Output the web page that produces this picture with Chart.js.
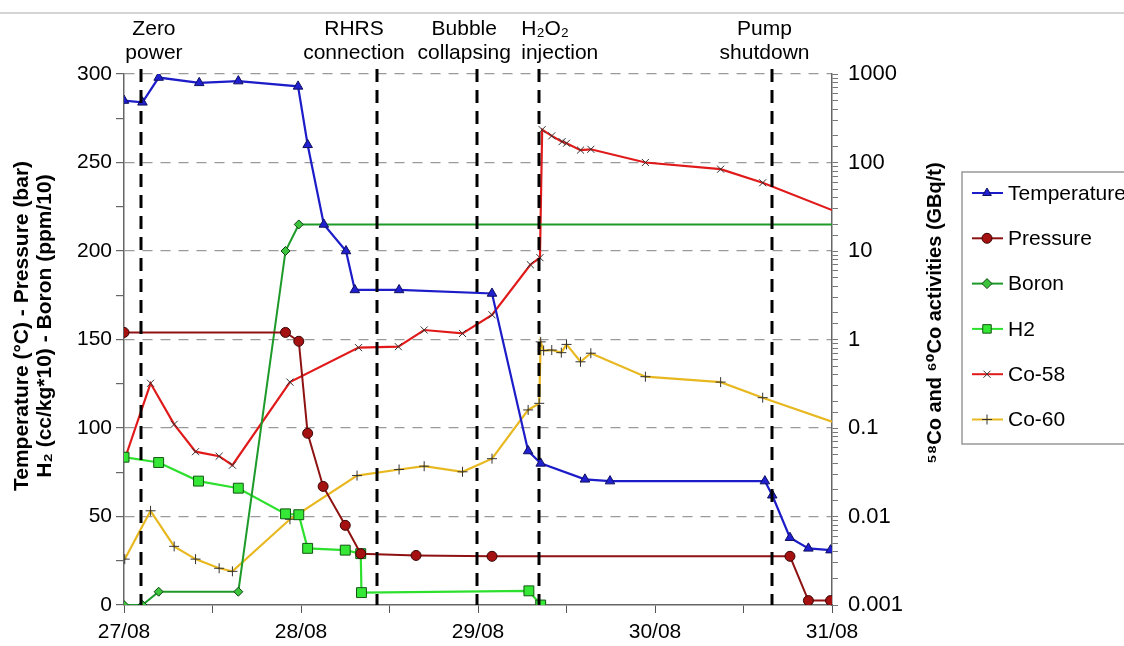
<!DOCTYPE html>
<html>
<head>
<meta charset="utf-8">
<script src="https://cdn.jsdelivr.net/npm/chart.js@4.4.1/dist/chart.umd.min.js"></script>
<style>
  body { margin: 0; background: #fff; }
  #wrap { width: 1124px; height: 646px; }
</style>
</head>
<body>
<div id="wrap"><canvas id="myChart" width="1124" height="646"></canvas></div>
<script>
// Datos: horas desde el 27/08 a las 00:00
const dayLabels = ['27/08', '28/08', '29/08', '30/08', '31/08'];

const tempHours = [0, 2.5, 4.7, 10.2, 15.5, 23.6, 24.9, 27.1, 30.1, 31.3, 37.3, 49.9, 54.8, 56.5, 62.5, 65.9, 86.9, 87.9, 90.3, 92.8, 95.8];
const tempValues = [285, 284, 298, 295, 296, 293, 260, 215, 200, 178, 178, 176, 87, 80, 71, 70, 70, 62, 38, 32, 31];

const pressHours = [0, 21.9, 23.7, 24.9, 27.0, 30.0, 32.1, 39.6, 49.9, 90.3, 92.8, 95.8];
const pressValues = [154, 154, 149, 97, 67, 45, 29, 28, 27.5, 27.5, 2.5, 2.5];

const boronHours = [0, 2.5, 4.7, 15.5, 21.9, 23.7, 96];
const boronValues = [0, 0, 7.5, 7.5, 200, 215, 215];

const h2Hours = [0, 4.7, 10.1, 15.5, 21.9, 23.7, 24.9, 30.0, 32.1, 32.2, 54.9, 56.5];
const h2Values = [83.5, 80.5, 70, 66, 51.5, 51, 32, 31, 29, 7, 8, 0];

const co58Hours = [0.2, 3.6, 6.8, 9.7, 12.9, 14.7, 22.5, 31.8, 37.2, 40.7, 45.9, 49.9, 55.1, 56.4, 56.7, 58.0, 59.4, 60.0, 61.9, 63.3, 70.7, 80.9, 86.6, 96];
const co58Values = [0.047, 0.32, 0.11, 0.054, 0.048, 0.038, 0.33, 0.81, 0.83, 1.28, 1.17, 1.9, 7, 8.4, 235, 200, 172, 165, 138, 141, 100, 84, 59, 29];

const co60Hours = [0.1, 3.6, 6.8, 9.7, 12.9, 14.7, 22.5, 31.6, 37.3, 40.7, 45.9, 49.9, 54.8, 56.3, 56.5, 56.9, 58.0, 59.3, 60.0, 61.9, 63.3, 70.7, 80.9, 86.6, 96];
const co60Values = [0.0033, 0.0116, 0.0046, 0.0033, 0.0026, 0.0024, 0.0093, 0.029, 0.034, 0.037, 0.032, 0.045, 0.16, 0.19, 0.94, 0.75, 0.76, 0.71, 0.88, 0.56, 0.7, 0.38, 0.33, 0.22, 0.118];

// Eventos (lineas verticales)
const eventHours = [2.3, 34.3, 47.9, 56.3, 87.8];
const eventLabels = [['Zero', 'power'], ['RHRS', 'connection'], ['Bubble', 'collapsing'], ['H\u2082O\u2082', 'injection'], ['Pump', 'shutdown']];

const FONT = "'Liberation Sans', Arial, 'DejaVu Sans', sans-serif";

function puntos(xs, ys) {
    return xs.map((x, i) => ({ x: x, y: ys[i] }));
}

// Hace el radio de puntos, sin marcador en el ultimo si se pide
function radios(n, r, sinUltimo) {
    const arr = [];
    for (let i = 0; i < n; i++) arr.push(r);
    if (sinUltimo) arr[n - 1] = 0;
    return arr;
}

const datasets = [
    {
        label: 'Temperature', data: puntos(tempHours, tempValues), yAxisID: 'y',
        borderColor: '#1c1cc8', backgroundColor: '#1c1cc8', borderWidth: 2.2,
        pointStyle: 'triangle', pointRadius: 5.5, pointBackgroundColor: '#2020d0', pointBorderColor: '#101060', pointBorderWidth: 1
    },
    {
        label: 'Pressure', data: puntos(pressHours, pressValues), yAxisID: 'y',
        borderColor: '#8e1212', backgroundColor: '#8e1212', borderWidth: 2,
        pointStyle: 'circle', pointRadius: 5, pointBackgroundColor: '#a51010', pointBorderColor: '#3a0505', pointBorderWidth: 1
    },
    {
        label: 'Boron', data: puntos(boronHours, boronValues), yAxisID: 'y',
        borderColor: '#1e9a2a', backgroundColor: '#1e9a2a', borderWidth: 2,
        pointStyle: 'rectRot', pointRadius: radios(boronHours.length, 4.5, true), pointBackgroundColor: '#3cc43c', pointBorderColor: '#104010', pointBorderWidth: 1
    },
    {
        label: 'H2', data: puntos(h2Hours, h2Values), yAxisID: 'y',
        borderColor: '#2ee02e', backgroundColor: '#2ee02e', borderWidth: 2.2,
        pointStyle: 'rect', pointRadius: 7, pointBackgroundColor: '#36e836', pointBorderColor: '#125512', pointBorderWidth: 1
    },
    {
        label: 'Co-58', data: puntos(co58Hours, co58Values), yAxisID: 'y2',
        borderColor: '#e01a1a', backgroundColor: '#e01a1a', borderWidth: 2.2,
        pointStyle: 'crossRot', pointRadius: radios(co58Hours.length, 5, true), pointBorderColor: '#333', pointBorderWidth: 1
    },
    {
        label: 'Co-60', data: puntos(co60Hours, co60Values), yAxisID: 'y2',
        borderColor: '#e8b820', backgroundColor: '#e8b820', borderWidth: 2.2,
        pointStyle: 'cross', pointRadius: radios(co60Hours.length, 5, true), pointBorderColor: '#333', pointBorderWidth: 1
    }
];

// Dibuja eventos, titulos de ejes y leyenda
const extras = {
    id: 'extras',
    beforeDraw(chart) {
        const ctx = chart.ctx;
        ctx.save();
        ctx.fillStyle = '#fff';
        ctx.fillRect(0, 0, chart.width, chart.height);
        ctx.strokeStyle = '#d4d4d4';
        ctx.lineWidth = 2;
        ctx.beginPath();
        ctx.moveTo(0, 13);
        ctx.lineTo(chart.width, 13);
        ctx.stroke();
        ctx.restore();
    },
    afterDatasetsDraw(chart) {
        const ctx = chart.ctx;
        const x = chart.scales.x;
        const area = chart.chartArea;
        const shift = [13, -23, -13, -18, -7];
        const align = ['center', 'center', 'center', 'left', 'center'];

        ctx.save();
        ctx.strokeStyle = '#000';
        ctx.lineWidth = 3;
        ctx.setLineDash([13, 8]);
        eventHours.forEach((h) => {
            const px = Math.round(x.getPixelForValue(h));
            ctx.beginPath();
            ctx.moveTo(px, area.top - 5);
            ctx.lineTo(px, area.bottom);
            ctx.stroke();
        });
        ctx.setLineDash([]);

        ctx.fillStyle = '#000';
        ctx.font = '21px ' + FONT;
        ctx.textBaseline = 'middle';
        eventLabels.forEach((lines, i) => {
            const px = x.getPixelForValue(eventHours[i]) + shift[i];
            ctx.textAlign = align[i];
            lines.forEach((t, j) => ctx.fillText(t, px, 29 + j * 24));
        });

        // Titulos de ejes
        ctx.textAlign = 'center';
        ctx.font = 'bold 21px ' + FONT;
        ctx.translate(22, 326);
        ctx.rotate(-Math.PI / 2);
        ctx.fillText('Temperature (\u00b0C) - Pressure (bar)', 0, 0);
        ctx.fillText('H\u2082 (cc/kg*10) - Boron (ppm/10)', 0, 23);
        ctx.restore();

        ctx.save();
        ctx.fillStyle = '#000';
        ctx.font = 'bold 20px ' + FONT;
        ctx.textAlign = 'center';
        ctx.textBaseline = 'middle';
        ctx.translate(935, 313);
        ctx.rotate(-Math.PI / 2);
        ctx.fillText('\u2075\u2078Co and \u2076\u2070Co activities (GBq/t)', 0, 0);
        ctx.restore();

        // Leyenda
        ctx.save();
        ctx.strokeStyle = '#999';
        ctx.lineWidth = 1.5;
        ctx.strokeRect(962, 172, 170, 272);
        ctx.font = '21px ' + FONT;
        ctx.textAlign = 'left';
        ctx.textBaseline = 'middle';
        chart.data.datasets.forEach((ds, i) => {
            const y = 193 + i * 45.3;
            ctx.strokeStyle = ds.borderColor;
            ctx.lineWidth = 2;
            ctx.beginPath();
            ctx.moveTo(972, y);
            ctx.lineTo(1003, y);
            ctx.stroke();
            ctx.fillStyle = ds.pointBackgroundColor || ds.borderColor;
            ctx.strokeStyle = ds.pointBorderColor;
            ctx.lineWidth = 1;
            const r = ds.pointStyle === 'rect' ? 6 : 5;
            Chart.helpers.drawPoint(ctx, { pointStyle: ds.pointStyle, radius: r, rotation: 0, borderWidth: 1 }, 987, y);
            ctx.fillStyle = '#000';
            ctx.fillText(ds.label, 1008, y + 1);
        });
        ctx.restore();
    }
};

function esPotencia(v) {
    const l = Math.log10(v);
    return Math.abs(l - Math.round(l)) < 1e-6;
}

new Chart(document.getElementById('myChart'), {
    type: 'line',
    data: { datasets: datasets },
    plugins: [extras],
    options: {
        responsive: false,
        animation: false,
        devicePixelRatio: 1,
        layout: { padding: { top: 74, left: 0, right: 0, bottom: 0 } },
        elements: { line: { tension: 0 } },
        plugins: { legend: { display: false }, tooltip: { enabled: false } },
        scales: {
            x: {
                type: 'linear', min: 0, max: 96,
                afterFit(s) { s.height = 41; },
                ticks: {
                    stepSize: 12, autoSkip: false, maxRotation: 0, padding: 7,
                    color: '#000', font: { size: 21, family: FONT },
                    callback: (v) => (v % 24 === 0 ? dayLabels[v / 24] : '')
                },
                grid: { drawOnChartArea: false, tickLength: 8, tickColor: '#555' },
                border: { color: '#666', width: 1.5 }
            },
            y: {
                type: 'linear', position: 'left', min: 0, max: 300,
                afterFit(s) { s.width = 124; },
                ticks: {
                    stepSize: 25, autoSkip: false, padding: 4,
                    color: '#000', font: { size: 21, family: FONT },
                    callback: (v) => (v % 50 === 0 ? v : '')
                },
                grid: {
                    color: (c) => (c.tick && c.tick.value % 50 === 0 && c.tick.value > 0 ? '#9a9a9a' : 'rgba(0,0,0,0)'),
                    lineWidth: 1.2, tickLength: 8, tickColor: '#666'
                },
                border: { color: '#666', width: 1.5, dash: [10, 8] }
            },
            y2: {
                type: 'logarithmic', position: 'right', min: 0.001, max: 1000,
                afterFit(s) { s.width = 292; },
                ticks: {
                    autoSkip: false, padding: 10,
                    color: '#000', font: { size: 22, family: FONT },
                    callback: (v) => (esPotencia(v) ? String(Number(v.toPrecision(3))) : '')
                },
                grid: { drawOnChartArea: false, tickLength: 6, tickColor: '#777' },
                border: { color: '#666', width: 1.5 }
            }
        }
    }
});
</script>
</body>
</html>
